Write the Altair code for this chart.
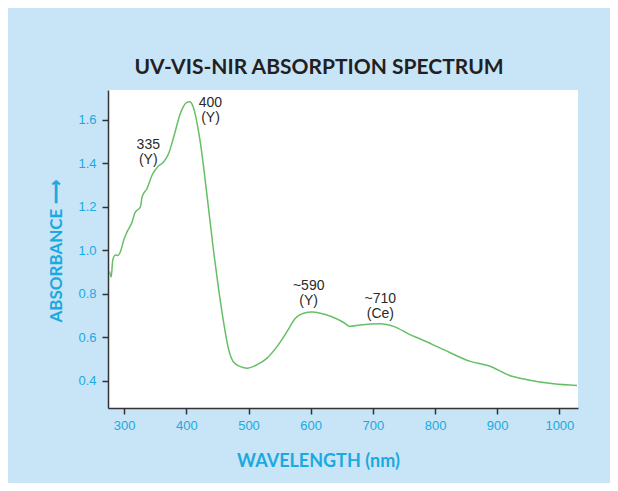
import altair as alt
import pandas as pd

# Spectrum
wavelength = [276.4, 279.1, 281.7, 286.0, 289.7, 294.1, 299.4, 304.8, 312.9, 317.0,
              326.2, 328.9, 337.0, 345.0, 353.1, 363.7, 371.7, 379.8, 390.5, 400.2,
              405.5, 410.9, 422.7, 433.5, 444.1, 452.1, 460.2, 468.2, 476.2, 487.0,
              497.8, 513.9, 529.9, 546.0, 562.1, 575.4, 588.8, 602.3, 615.6, 653.1,
              662.8, 680.0, 712.1, 733.5, 760.4, 776.4, 813.9, 856.8, 886.3, 921.1,
              948.0, 990.8, 1028.4]
absorbance = [0.903, 0.877, 0.956, 0.979, 0.976, 0.995, 1.048, 1.086, 1.132, 1.171,
              1.201, 1.247, 1.286, 1.347, 1.382, 1.408, 1.447, 1.523, 1.631, 1.680,
              1.684, 1.661, 1.493, 1.247, 0.990, 0.818, 0.665, 0.542, 0.485, 0.465,
              0.458, 0.474, 0.504, 0.558, 0.627, 0.688, 0.711, 0.716, 0.711, 0.668,
              0.650, 0.657, 0.662, 0.650, 0.611, 0.592, 0.543, 0.489, 0.469, 0.423,
              0.405, 0.386, 0.378]

# Peak annotations
ann_text = ["335\n(Y)", "400\n(Y)", "~590\n(Y)", "~710\n(Ce)"]
ann_x = [338.8, 438.8, 596.8, 712.1]
ann_y = [1.484, 1.677, 0.836, 0.778]

x_ticks = [300, 350, 400, 450, 500, 550, 600, 650, 700, 750, 800, 850, 900, 950, 1000]
y_ticks = [0.4, 0.6, 0.8, 1.0, 1.2, 1.4, 1.6]

spec = pd.DataFrame({"wl": wavelength, "ab": absorbance})
ann = pd.DataFrame({"wl": ann_x, "ab": ann_y, "t": ann_text})

CYAN = "#1BA9E1"
NUMFONT = "Liberation Sans Narrow, Liberation Sans, sans-serif"
HEADFONT = "Lato, Open Sans, sans-serif"

xscale = alt.Scale(domain=[274, 1030], nice=False, zero=False)
yscale = alt.Scale(domain=[0.2745, 1.738], nice=False, zero=False)

xaxis = alt.Axis(
    title="WAVELENGTH (nm)", values=x_ticks,
    labelExpr="datum.value % 100 == 0 ? datum.label : ''",
    format="d", grid=False, tickSize=6, labelPadding=5,
    domainColor="#333333", tickColor="#333333", domainWidth=1.5, tickWidth=1.5,
    labelColor=CYAN, labelFont=NUMFONT, labelFontSize=13,
    titleColor=CYAN, titleFont=HEADFONT, titleFontSize=18, titleFontWeight="bold",
    titleX=210, titleY=58, titleAnchor="middle", titleAlign="center", titleBaseline="alphabetic",
)
yaxis = alt.Axis(
    title="ABSORBANCE \u27F6", values=y_ticks, format=".1f", grid=False,
    tickSize=6, labelPadding=6,
    domainColor="#333333", tickColor="#333333", domainWidth=1.5, tickWidth=1.5,
    labelColor=CYAN, labelFont=NUMFONT, labelFontSize=13,
    titleColor=CYAN, titleFont=HEADFONT, titleFontSize=17, titleFontWeight="bold",
    titleAngle=270, titleX=-52, titleY=161, titleAlign="center", titleBaseline="middle",
)

line = alt.Chart(spec).mark_line(color="#66BF66", strokeWidth=1.5, interpolate="monotone").encode(
    x=alt.X("wl:Q", scale=xscale, axis=xaxis),
    y=alt.Y("ab:Q", scale=yscale, axis=yaxis),
)

labels = alt.Chart(ann).mark_text(
    font=NUMFONT, fontSize=14, color="#2A2A2A", lineBreak="\n", lineHeight=15,
    align="center", baseline="middle",
).encode(
    x=alt.X("wl:Q", scale=xscale),
    y=alt.Y("ab:Q", scale=yscale),
    text="t:N",
)

chart = alt.layer(line, labels).properties(
    width=470, height=318,
    autosize=alt.AutoSizeParams(type="none"),
    padding={"left": 100, "top": 82, "right": 32, "bottom": 75},
    background="#C8E4F7",
    title=alt.TitleParams(
        "UV-VIS-NIR ABSORPTION SPECTRUM", font=HEADFONT, fontSize=21, fontWeight="bold",
        color="#231F20", anchor="middle", frame="group", dx=-24, dy=20, offset=15,
        baseline="alphabetic",
    ),
).configure_view(fill="white", stroke=None)

chart.save("out.html", embed_options={"renderer": "svg", "actions": False})
